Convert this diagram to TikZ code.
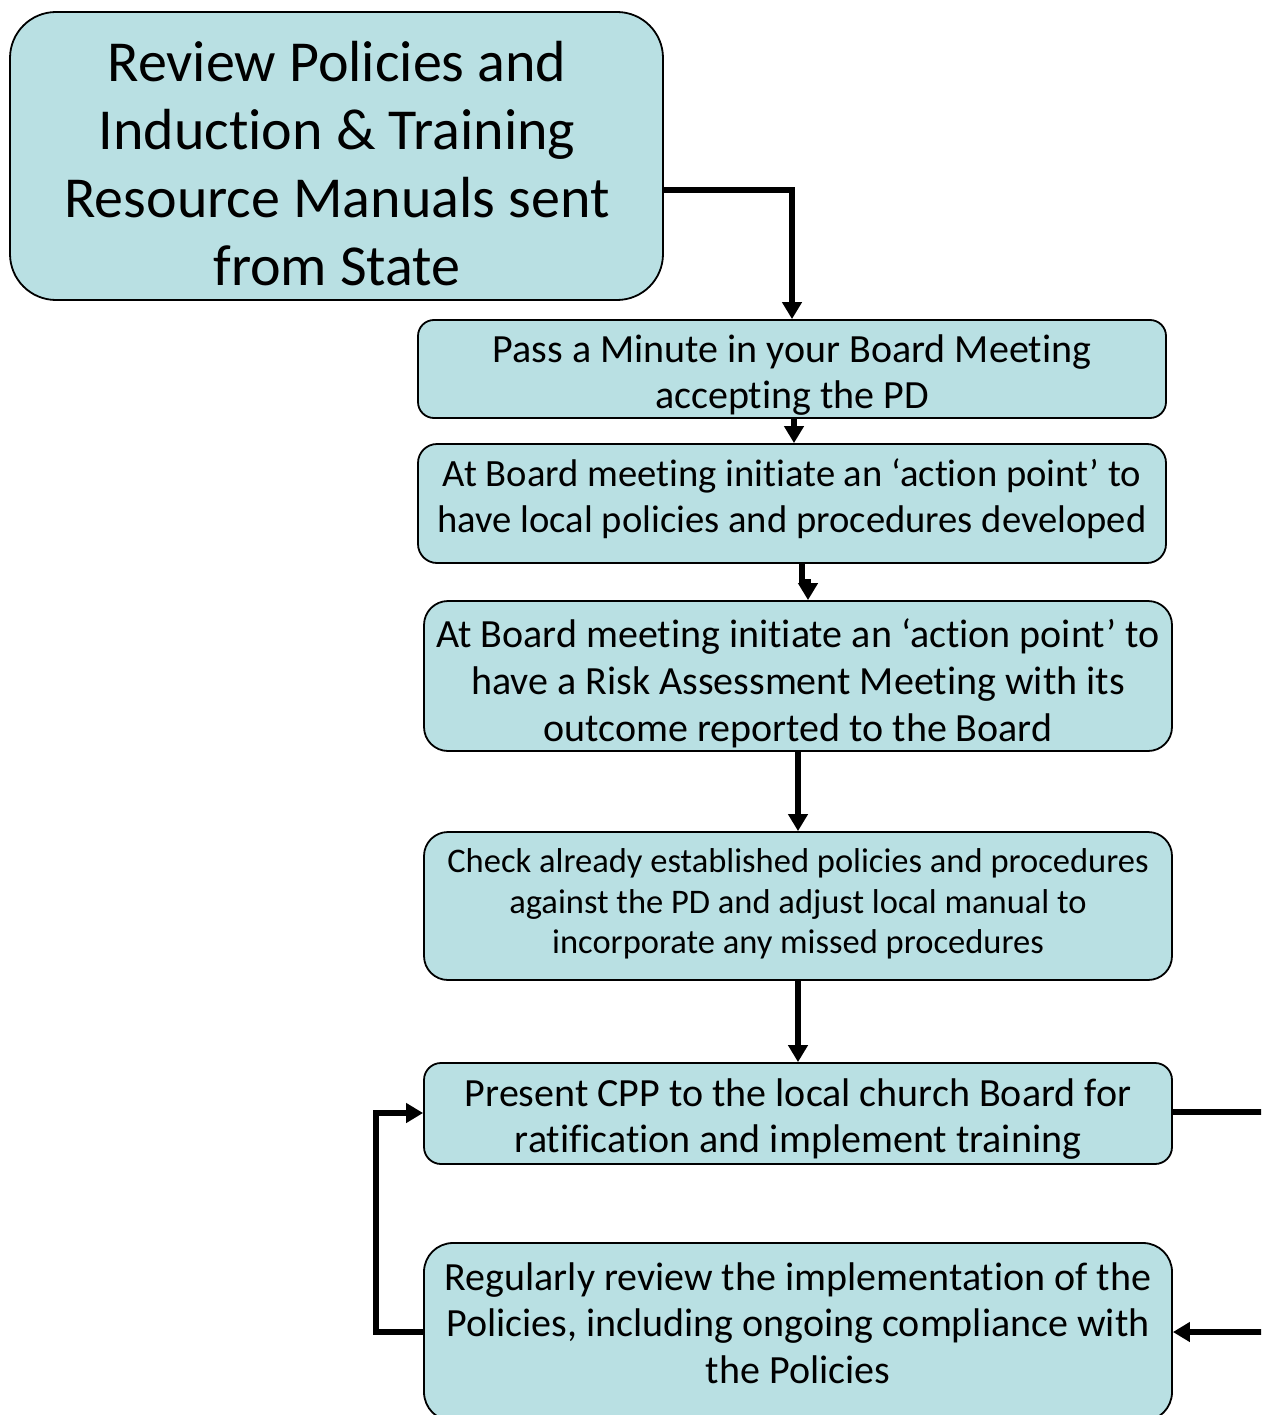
\documentclass[tikz,border=0pt]{standalone}
\usepackage{fontspec}
\setmainfont{Carlito}[RawFeature=-liga]
\usetikzlibrary{arrows.meta,calc}

\definecolor{boxfill}{HTML}{B9E0E3}

\tikzset{
  flowbox/.style={draw=black, line width=1.8pt, fill=boxfill, inner sep=0pt},
  boxtext/.style={align=center, inner sep=0pt, text=black},
  link/.style={draw=black, line width=6pt, line join=miter},
  tip/.style={-{Triangle[length=17pt,width=19pt]}}
}

\begin{document}
\begin{tikzpicture}[x=1pt,y=-1pt]
  \useasboundingbox (0,0) rectangle (1261,1415);
  \clip (0,0) rectangle (1261,1415);

  % process steps: rounded boxes
  \node[flowbox, rounded corners=46pt, minimum width=653pt, minimum height=288pt] (review) at (336.5,156) {};
  \node[flowbox, rounded corners=16pt, minimum width=748pt, minimum height=98pt]  (minute) at (792,369) {};
  \node[flowbox, rounded corners=19pt, minimum width=748pt, minimum height=119pt] (local) at (792,503.5) {};
  \node[flowbox, rounded corners=24pt, minimum width=748pt, minimum height=150pt] (risk) at (798,676) {};
  \node[flowbox, rounded corners=24pt, minimum width=748pt, minimum height=148pt] (check) at (798,906) {};
  \node[flowbox, rounded corners=17pt, minimum width=748pt, minimum height=101pt] (present) at (798,1113.5) {};
  \node[flowbox, rounded corners=29pt, minimum width=748pt, minimum height=178pt] (regular) at (798,1332) {};

  % their texts
  \node[boxtext, font=\fontsize{58}{68}\selectfont] (review-t) at (337,163.5)
    {Review Policies and\\Induction \& Training\\Resource Manuals sent\\from State};
  \node[boxtext, font=\fontsize{40}{46}\selectfont] (minute-t) at (792,375)
    {Pass a Minute in your Board Meeting\\accepting the PD};
  \node[boxtext, font=\fontsize{38.6}{46}\selectfont] (local-t) at (792,499)
    {At Board meeting initiate an ‘action point’ to\\have local policies and procedures developed};
  \node[boxtext, font=\fontsize{40}{47}\selectfont] (risk-t) at (798,683)
    {At Board meeting initiate an ‘action point’ to\\have a Risk Assessment Meeting with its\\outcome reported to the Board};
  \node[boxtext, font=\fontsize{34.5}{40.5}\selectfont] (check-t) at (798,904)
    {Check already established policies and procedures\\against the PD and adjust local manual to\\incorporate any missed procedures};
  \node[boxtext, font=\fontsize{40}{46}\selectfont] (present-t) at (798,1119.5)
    {Present CPP to the local church Board for\\ratification and implement training};
  \node[boxtext, font=\fontsize{40}{46.5}\selectfont] (regular-t) at (798,1323)
    {Regularly review the implementation of the\\Policies, including ongoing compliance with\\the Policies};

  % connectors
  \coordinate (eastA) at (1290,1112);
  \coordinate (eastB) at (1290,1332);
  \coordinate (westA) at (376,1332);
  \coordinate (westB) at (376,1113);
  \coordinate (jogA) at (802,582);
  \coordinate (jogB) at (808,582);

  \draw[link, tip] (review.east |- 0,190) -| (minute.north -| 792,0);
  \draw[link, tip] (minute.south -| 794,0) -- (local.north -| 794,0);
  \draw[link, tip] (local.south -| jogA) -- (jogA) -- (jogB) -- (risk.north -| jogB);
  \draw[link, tip] (risk.south) -- (check.north);
  \draw[link, tip] (check.south) -- (present.north);
  \draw[link] (present.east |- eastA) -- (eastA) -- (eastB);
  \draw[link, tip] (eastB) -- (regular.east |- eastB);
  \draw[link, tip] (regular.west |- westA) -- (westA) -- (westB) -- (present.west |- westB);
\end{tikzpicture}
\end{document}
